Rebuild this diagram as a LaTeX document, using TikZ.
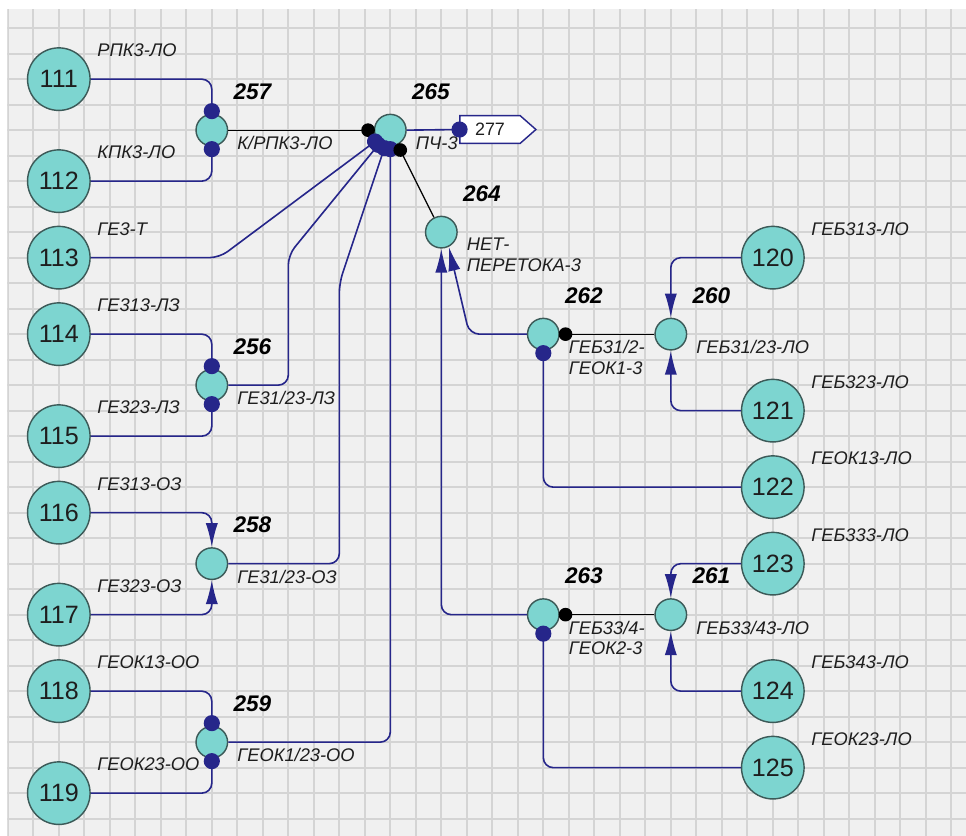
\documentclass[tikz,border=0pt]{standalone}
\usepackage{fontspec}
\setmainfont{Liberation Sans}
\usetikzlibrary{arrows.meta}
\definecolor{navyc}{RGB}{38,38,138}
\definecolor{tealc}{RGB}{125,213,208}
\definecolor{borderc}{RGB}{60,90,88}
\definecolor{bgc}{RGB}{240,240,240}
\definecolor{gridc}{RGB}{212,212,212}
\definecolor{labc}{RGB}{30,30,30}
\begin{document}
\begin{tikzpicture}[x=0.5cm,y=-0.5cm,
  big/.style={circle, draw=borderc, fill=tealc, line width=0.8pt, minimum size=34.9pt, inner sep=0pt, font=\fontsize{14}{16}\selectfont, text=labc},
  small/.style={circle, draw=borderc, fill=tealc, line width=0.8pt, minimum size=17.6pt, inner sep=0pt},
  lab/.style={anchor=west, inner sep=0pt, font=\fontsize{10.2}{11.4}\selectfont\itshape, text=labc},
  num/.style={anchor=west, inner sep=0pt, font=\fontsize{12.6}{14}\selectfont\bfseries\itshape, text=black},
  nlab/.style={anchor=north west, inner sep=0pt, align=left, font=\fontsize{10.2}{11.4}\selectfont\itshape, text=labc},
  nav/.style={draw=navyc, line width=0.9pt, rounded corners=5.6pt},
  navdot/.style={nav, -{Circle[length=9pt, fill=navyc]}, shorten >=-3.1pt},
  navdotbox/.style={nav, -{Circle[length=9pt, fill=navyc]}, shorten >=-4.5pt},
  navarr/.style={nav, -{Latex[length=13.4pt,width=6.8pt]}},
  blkdot/.style={draw=black, line width=0.7pt, -{Circle[length=7.6pt]}, shorten >=-0.6pt},
  gridline/.style={draw=gridc, line width=1.1pt}
]
\useasboundingbox (-0.306,-0.104) rectangle (37.576,32.68);
\fill[white] (-0.306,-0.104) rectangle (37.576,32.68);
\fill[bgc] (-0.02,0.26) rectangle (37.576,32.68);
\begin{scope}
\clip (-0.02,0.26) rectangle (37.576,32.68);
\foreach \i in {0,...,37} \draw[gridline] (\i,0) -- (\i,33);
\foreach \j in {1,...,32} \draw[gridline] (-1,\j) -- (38,\j);
\end{scope}

% big nodes
\node[big] (n111) at (2,3) {111};
\node[big] (n112) at (2,7) {112};
\node[big] (n113) at (2,10) {113};
\node[big] (n114) at (2,13) {114};
\node[big] (n115) at (2,17) {115};
\node[big] (n116) at (2,20) {116};
\node[big] (n117) at (2,24) {117};
\node[big] (n118) at (2,27) {118};
\node[big] (n119) at (2,31) {119};
\node[big] (n120) at (30,10) {120};
\node[big] (n121) at (30,16) {121};
\node[big] (n122) at (30,19) {122};
\node[big] (n123) at (30,22) {123};
\node[big] (n124) at (30,27) {124};
\node[big] (n125) at (30,30) {125};

% small nodes
\node[small] (n257) at (8,5) {};
\node[small] (n265) at (15,5) {};
\node[small] (n264) at (17,9) {};
\node[small] (n256) at (8,15) {};
\node[small] (n258) at (8,22) {};
\node[small] (n259) at (8,29) {};
\node[small] (n262) at (21,13) {};
\node[small] (n260) at (26,13) {};
\node[small] (n263) at (21,24) {};
\node[small] (n261) at (26,24) {};

% output box 277
\path[draw=navyc, fill=white, line width=0.8pt] (17.73,4.43) -- (20.09,4.43) -- (20.71,4.975) -- (20.09,5.52) -- (17.73,5.52) -- cycle;
\node[inner sep=0pt, minimum width=1.18cm, minimum height=0.545cm, font=\fontsize{10}{12}\selectfont, text=labc] (b277) at (18.91,4.975) {277};

% labels of big nodes
\path (n111) ++(1.5,-1.12) node[lab] (l111) {РПК3-ЛО};
\path (n112) ++(1.5,-1.12) node[lab] (l112) {КПК3-ЛО};
\path (n113) ++(1.5,-1.12) node[lab] (l113) {ГЕ3-Т};
\path (n114) ++(1.5,-1.12) node[lab] (l114) {ГЕ313-ЛЗ};
\path (n115) ++(1.5,-1.12) node[lab] (l115) {ГЕ323-ЛЗ};
\path (n116) ++(1.5,-1.12) node[lab] (l116) {ГЕ313-ОЗ};
\path (n117) ++(1.5,-1.12) node[lab] (l117) {ГЕ323-ОЗ};
\path (n118) ++(1.5,-1.12) node[lab] (l118) {ГЕОК13-ОО};
\path (n119) ++(1.5,-1.12) node[lab] (l119) {ГЕОК23-ОО};
\path (n120) ++(1.5,-1.12) node[lab] (l120) {ГЕБ313-ЛО};
\path (n121) ++(1.5,-1.12) node[lab] (l121) {ГЕБ323-ЛО};
\path (n122) ++(1.5,-1.12) node[lab] (l122) {ГЕОК13-ЛО};
\path (n123) ++(1.5,-1.12) node[lab] (l123) {ГЕБ333-ЛО};
\path (n124) ++(1.5,-1.12) node[lab] (l124) {ГЕБ343-ЛО};
\path (n125) ++(1.5,-1.12) node[lab] (l125) {ГЕОК23-ЛО};

% numbers of small nodes
\path (n257) ++(0.84,-1.52) node[num] (k257) {257};
\path (n265) ++(0.84,-1.52) node[num] (k265) {265};
\path (n264) ++(0.84,-1.52) node[num] (k264) {264};
\path (n256) ++(0.84,-1.52) node[num] (k256) {256};
\path (n258) ++(0.84,-1.52) node[num] (k258) {258};
\path (n259) ++(0.84,-1.52) node[num] (k259) {259};
\path (n262) ++(0.84,-1.52) node[num] (k262) {262};
\path (n260) ++(0.84,-1.52) node[num] (k260) {260};
\path (n263) ++(0.84,-1.52) node[num] (k263) {263};
\path (n261) ++(0.84,-1.52) node[num] (k261) {261};

% labels of small nodes
\path (n257) ++(0.99,0.23) node[nlab] (m257) {К/РПК3-ЛО};
\path (n265) ++(0.99,0.23) node[nlab] (m265) {ПЧ-3};
\path (n264) ++(0.99,0.23) node[nlab] (m264) {НЕТ-\\ПЕРЕТОКА-3};
\path (n256) ++(0.99,0.23) node[nlab] (m256) {ГЕ31/23-ЛЗ};
\path (n258) ++(0.99,0.23) node[nlab] (m258) {ГЕ31/23-ОЗ};
\path (n259) ++(0.99,0.23) node[nlab] (m259) {ГЕОК1/23-ОО};
\path (n262) ++(0.99,0.23) node[nlab] (m262) {ГЕБ31/2-\\ГЕОК1-3};
\path (n260) ++(0.99,0.23) node[nlab] (m260) {ГЕБ31/23-ЛО};
\path (n263) ++(0.99,0.23) node[nlab] (m263) {ГЕБ33/4-\\ГЕОК2-3};
\path (n261) ++(0.99,0.23) node[nlab] (m261) {ГЕБ33/43-ЛО};

% connectors
\draw[navdot] (n111.east) -| (n257.north);
\draw[navdot] (n112.east) -| (n257.south);
\draw[blkdot] (n257.east) -- (n265.west);
\draw[navdot] (n113.east) -- (8.3,10) -- (n265);
\draw[navdot] (n114.east) -| (n256.north);
\draw[navdot] (n115.east) -| (n256.south);
\draw[navdot] (n256.east) -- (11,15) -- (11,9.9) -- (n265);
\draw[navarr] (n116.east) -| (n258.north);
\draw[navarr] (n117.east) -| (n258.south);
\draw[navdot] (n258.east) -- (13,22) -- (13,11) -- (n265);
\draw[navdot] (n118.east) -| (n259.north);
\draw[navdot] (n119.east) -| (n259.south);
\draw[navdot] (n259.east) -- (15,29) -- (n265);
\draw[navdotbox] (n265.east) -- (b277.west);
\draw[blkdot] (n264) -- (n265);
\draw[navarr] (n262.west) -- (18.1,13) -- (n264.-63);
\draw[navarr] (n263.west) -- (17,24) -- (n264.south);
\draw[navarr] (n120.west) -| (n260.north);
\draw[navarr] (n121.west) -| (n260.south);
\draw[blkdot] (n260.west) -- (n262.east);
\draw[navdot] (n122.west) -| (n262.south);
\draw[navarr] (n123.west) -| (n261.north);
\draw[navarr] (n124.west) -| (n261.south);
\draw[blkdot] (n261.west) -- (n263.east);
\draw[navdot] (n125.west) -| (n263.south);
\end{tikzpicture}
\end{document}
